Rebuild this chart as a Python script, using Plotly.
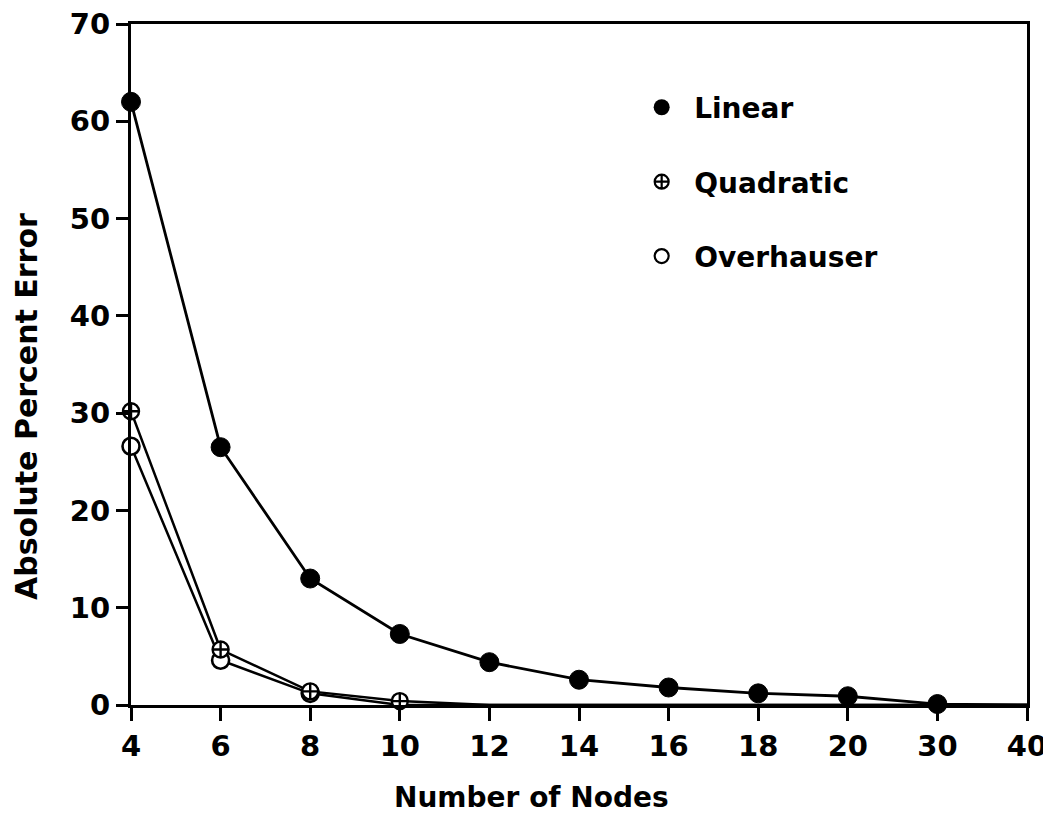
import plotly.graph_objects as go

nodes = ["4", "6", "8", "10", "12", "14", "16", "18", "20", "30", "40"]
linear = [62.0, 26.5, 13.0, 7.3, 4.4, 2.6, 1.8, 1.2, 0.9, 0.1, 0.0]
quad_nodes = ["4", "6", "8", "10", "12", "14", "16", "18", "20", "30", "40"]
quadratic = [30.2, 5.7, 1.4, 0.4, 0.0, 0.0, 0.0, 0.0, 0.0, 0.0, 0.0]
over_nodes = ["4", "6", "8", "10", "12", "14", "16", "18", "20", "30", "40"]
overhauser = [26.6, 4.6, 1.2, 0.0, 0.0, 0.0, 0.0, 0.0, 0.0, 0.0, 0.0]
y_ticks = [0, 10, 20, 30, 40, 50, 60, 70]

FONT = "DejaVu Sans"
BLACK = "#000000"

fig = go.Figure()

fig.add_trace(go.Scatter(
    x=over_nodes, y=overhauser, mode="lines",
    line=dict(color=BLACK, width=2.5), showlegend=False, cliponaxis=False,
))
fig.add_trace(go.Scatter(
    x=quad_nodes, y=quadratic, mode="lines",
    line=dict(color=BLACK, width=2.5), showlegend=False, cliponaxis=False,
))
fig.add_trace(go.Scatter(
    x=nodes, y=linear, mode="lines",
    line=dict(color=BLACK, width=2.8), showlegend=False, cliponaxis=False,
))

fig.add_trace(go.Scatter(
    x=over_nodes[:3], y=overhauser[:3], mode="markers",
    marker=dict(symbol="circle", size=17, color="white", line=dict(color=BLACK, width=2.6)),
    showlegend=False, cliponaxis=False,
))
fig.add_trace(go.Scatter(
    x=quad_nodes[:4], y=quadratic[:4], mode="markers",
    marker=dict(symbol="circle-cross", size=16, color="white", line=dict(color=BLACK, width=2.4)),
    showlegend=False, cliponaxis=False,
))
fig.add_trace(go.Scatter(
    x=nodes[:10], y=linear[:10], mode="markers",
    marker=dict(symbol="circle", size=19, color=BLACK, line=dict(color=BLACK, width=1)),
    showlegend=False, cliponaxis=False,
))

fig.add_trace(go.Scatter(
    x=[None], y=[None], mode="markers", name="Linear", legendgroup="a",
    marker=dict(symbol="circle", size=17, color=BLACK),
))
fig.add_trace(go.Scatter(
    x=[None], y=[None], mode="markers", name="Quadratic", legendgroup="b",
    marker=dict(symbol="circle-cross", size=14, color="white", line=dict(color=BLACK, width=2.2)),
))
fig.add_trace(go.Scatter(
    x=[None], y=[None], mode="markers", name="Overhauser", legendgroup="c",
    marker=dict(symbol="circle", size=14, color="white", line=dict(color=BLACK, width=2.2)),
))

tick_font = dict(family=FONT, size=29, color=BLACK, weight="bold")

fig.update_layout(
    width=1043, height=806,
    margin=dict(l=123, r=24, t=16, b=109),
    paper_bgcolor="white", plot_bgcolor="white",
    showlegend=True,
    legend=dict(
        x=0.556, y=0.914, xanchor="left", yanchor="top",
        font=dict(family=FONT, size=28, color=BLACK, weight="bold"),
        tracegroupgap=35, itemsizing="trace", itemwidth=55, bgcolor="rgba(0,0,0,0)",
    ),
    xaxis=dict(
        type="category", categoryorder="array", categoryarray=nodes,
        range=[0, len(nodes) - 1], automargin=False,
        showgrid=False, zeroline=False,
        showline=True, linecolor=BLACK, linewidth=3, mirror=True,
        ticks="outside", ticklen=13, tickwidth=3, tickcolor=BLACK,
        tickfont=tick_font, ticklabeloverflow="allow",
    ),
    yaxis=dict(
        range=[0, 70], tickvals=y_ticks, automargin=False,
        showgrid=False, zeroline=False,
        showline=True, linecolor=BLACK, linewidth=3, mirror=True,
        ticks="outside", ticklen=12, tickwidth=3, tickcolor=BLACK,
        tickfont=tick_font, ticklabeloverflow="allow",
    ),
    annotations=[
        dict(text="Number of Nodes", xref="paper", yref="paper",
             x=0.4475, y=-0.1351, xanchor="center", yanchor="middle",
             showarrow=False,
             font=dict(family=FONT, size=28, color=BLACK, weight="bold")),
        dict(text="Absolute Percent Error", xref="paper", yref="paper",
             x=-0.1172, y=0.439, xanchor="center", yanchor="middle",
             textangle=-90, showarrow=False,
             font=dict(family=FONT, size=30, color=BLACK, weight="bold")),
    ],
)

fig.write_html("out.html")
